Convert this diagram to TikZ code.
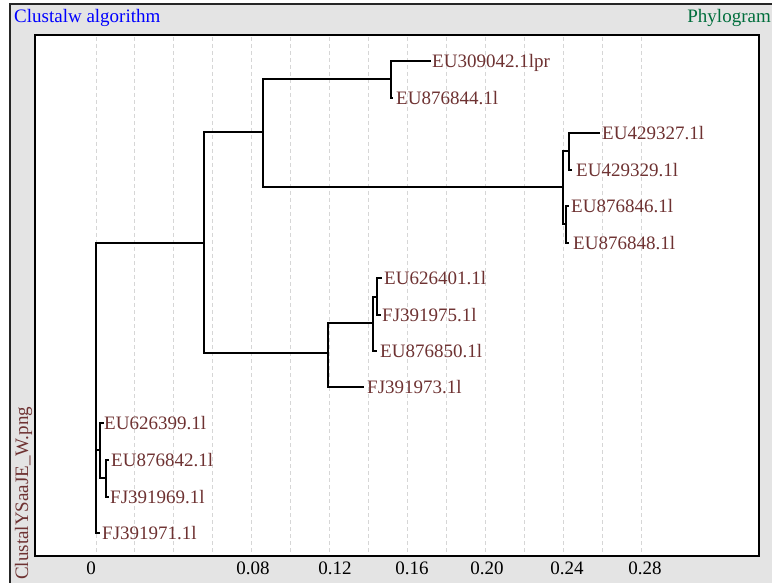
\documentclass[tikz,border=0pt]{standalone}
\usepackage{fontspec}
\setmainfont{Liberation Serif}
\definecolor{lab}{RGB}{110,50,50}
\definecolor{bgc}{RGB}{228,228,228}
\definecolor{grn}{RGB}{0,110,60}
\definecolor{gridc}{RGB}{214,214,214}
\begin{document}
\begin{tikzpicture}[x=1pt,y=-1pt,
  leaf/.style={anchor=west, inner sep=0pt, text=lab, font=\fontsize{19}{19}\selectfont, text height=13pt, text depth=0pt},
  ticklab/.style={inner sep=0pt, text=black, font=\fontsize{19}{19}\selectfont, text height=13pt, text depth=0pt},
  branch/.style={line width=2pt, line cap=rect, line join=miter},
  gridline/.style={gridc, line width=1pt, dash pattern=on 4pt off 3pt}]
\useasboundingbox (0,0) rectangle (772,583);
\fill[white] (0,0) rectangle (772,583);
\draw[fill=bgc, draw=black!85, line width=2pt] (10,4) rectangle (790,600);
\draw[fill=white, line width=2pt] (35,35) rectangle (759,556);
\foreach \i in {0,...,14} \draw[gridline] ({96+38.93*\i},37) -- ({96+38.93*\i},554);
% titles
\node[anchor=base west, inner sep=0pt, text=blue, font=\fontsize{19}{19}\selectfont] (t1) at (14,23) {Clustalw algorithm};
\node[anchor=base east, inner sep=0pt, text=grn, font=\fontsize{19}{19}\selectfont] (t2) at (771,23) {Phylogram};
\node[anchor=base west, inner sep=0pt, rotate=90, text=lab, font=\fontsize{19}{19}\selectfont] (t3) at (28,580) {ClustalYSaaJE\_W.png};
% axis labels
\node[ticklab] (x0) at (91,568) {0};
\node[ticklab] (x1) at (253,568) {0.08};
\node[ticklab] (x2) at (335,568) {0.12};
\node[ticklab] (x3) at (412,568) {0.16};
\node[ticklab] (x4) at (487,568) {0.20};
\node[ticklab] (x5) at (567,568) {0.24};
\node[ticklab] (x6) at (645,568) {0.28};
% tree coordinates
\coordinate (R) at (96,243);
\coordinate (A) at (204,243);
\coordinate (B) at (263,132);
\coordinate (C) at (391,79);
\coordinate (l1) at (430,61);
\coordinate (l2) at (392,98);
\coordinate (D) at (563,187);
\coordinate (E) at (569,151);
\coordinate (l3) at (599,133);
\coordinate (l4) at (571,170);
\coordinate (F) at (566,224);
\coordinate (l5) at (568,206);
\coordinate (l6) at (568,243);
\coordinate (G) at (328,353);
\coordinate (H) at (373,323);
\coordinate (I) at (377,297);
\coordinate (l7) at (381,278);
\coordinate (l8) at (380,315);
\coordinate (l9) at (376,351);
\coordinate (l10) at (363,387);
\coordinate (J) at (100,450);
\coordinate (K) at (106,478);
\coordinate (l11) at (103,423);
\coordinate (l12) at (108,460);
\coordinate (l13) at (108,497);
\coordinate (l14) at (99,533);
% branches
\foreach \p/\c in {R/A, R/J, R/l14, A/B, A/G, B/C, B/D, C/l1, C/l2, D/E, D/F, E/l3, E/l4, F/l5, F/l6, G/H, G/l10, H/I, H/l9, I/l7, I/l8, J/l11, J/K, K/l12, K/l13}
  \draw[branch] (\p) |- (\c);
% leaf labels
\node[leaf] (n1) at (432,61) {EU309042.1lpr};
\node[leaf] (n2) at (396,98) {EU876844.1l};
\node[leaf] (n3) at (602,133) {EU429327.1l};
\node[leaf] (n4) at (576,170) {EU429329.1l};
\node[leaf] (n5) at (571,206) {EU876846.1l};
\node[leaf] (n6) at (573,243) {EU876848.1l};
\node[leaf] (n7) at (384,278) {EU626401.1l};
\node[leaf] (n8) at (382,315) {FJ391975.1l};
\node[leaf] (n9) at (380,351) {EU876850.1l};
\node[leaf] (n10) at (367,387) {FJ391973.1l};
\node[leaf] (n11) at (104,423) {EU626399.1l};
\node[leaf] (n12) at (111,460) {EU876842.1l};
\node[leaf] (n13) at (110,497) {FJ391969.1l};
\node[leaf] (n14) at (102,533) {FJ391971.1l};
\end{tikzpicture}
\end{document}
